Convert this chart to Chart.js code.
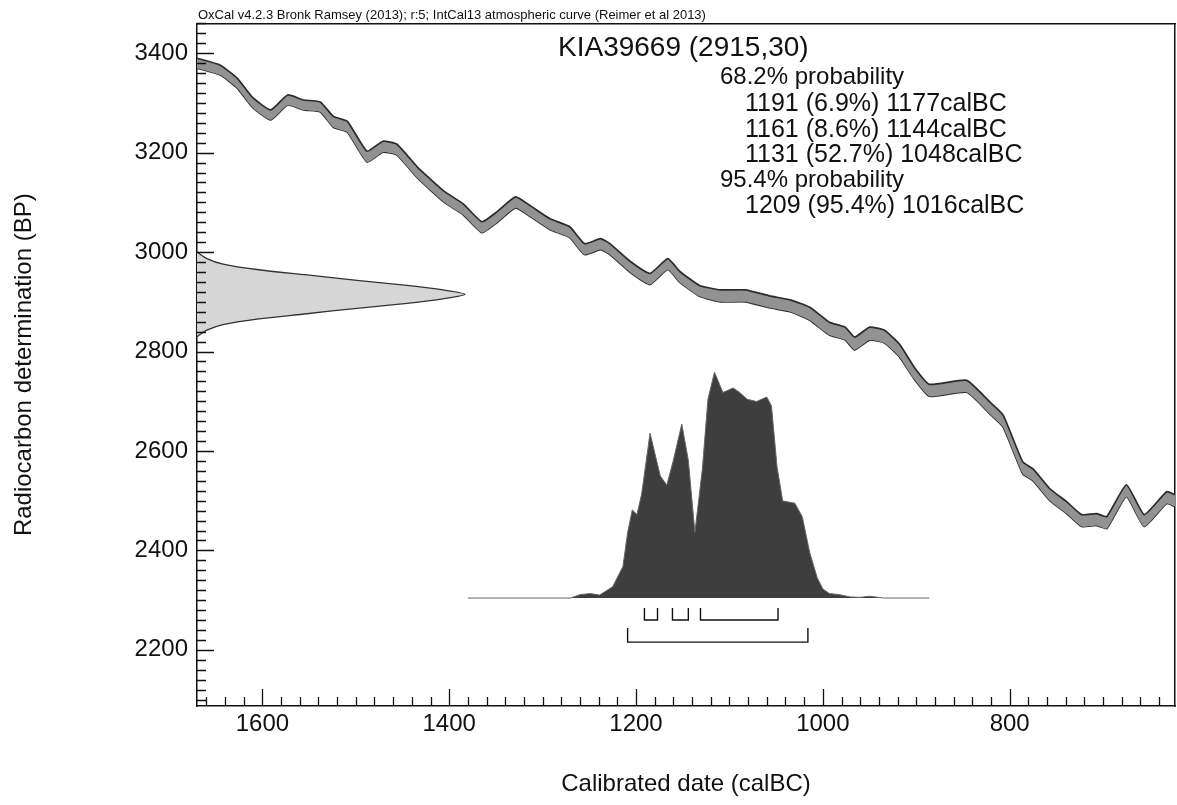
<!DOCTYPE html>
<html>
<head>
<meta charset="utf-8">
<script src="https://cdn.jsdelivr.net/npm/chart.js@4.4.0/dist/chart.umd.min.js"></script>
<style>
  body { margin: 0; background: #fff; }
  #wrap { position: relative; width: 1177px; height: 805px; font-family: "Liberation Sans", Arial, sans-serif; color: #111; }
  #chart { position: absolute; left: 0; top: 0; }
  .txt { position: absolute; white-space: nowrap; font-size: 24px; line-height: 26px; }
  .val { font-size: 25px; }
  #header { position: absolute; left: 198px; top: 7px; font-size: 13px; line-height: 16px; white-space: nowrap; }
</style>
</head>
<body>
<div id="wrap">
  <canvas id="chart" width="1177" height="805"></canvas>
  <div id="header">OxCal v4.2.3 Bronk Ramsey (2013); r:5; IntCal13 atmospheric curve (Reimer et al 2013)</div>
  <div class="txt" style="left:558px; top:32px; font-size:28px; line-height:29px;">KIA39669 (2915,30)</div>
  <div class="txt" style="left:720px; top:63px;">68.2% probability</div>
  <div class="txt val" style="left:745px; top:89px;">1191 (6.9%) 1177calBC</div>
  <div class="txt val" style="left:745px; top:115px;">1161 (8.6%) 1144calBC</div>
  <div class="txt val" style="left:745px; top:140px;">1131 (52.7%) 1048calBC</div>
  <div class="txt" style="left:720px; top:166px;">95.4% probability</div>
  <div class="txt val" style="left:745px; top:191px;">1209 (95.4%) 1016calBC</div>
</div>
<script>
// IntCal13 curve (calBC, BP, 1 sigma)
const curveYear = [1670, 1645, 1627, 1610, 1591, 1573, 1556, 1538, 1524, 1509, 1488, 1471, 1456, 1434, 1406,
    1385, 1365, 1349, 1329, 1313, 1292, 1271, 1255, 1238, 1228, 1206, 1185, 1166, 1153, 1132,
    1110, 1083, 1057, 1035, 1014, 993, 976, 966, 950, 934, 918, 902, 886, 846, 821,
    807, 786, 775, 757, 739, 723, 707, 696, 675, 656, 632, 623];
const curveBP = [3380, 3366, 3340, 3300, 3276, 3306, 3296, 3292, 3262, 3252, 3192, 3212, 3206, 3160, 3112,
    3086, 3050, 3070, 3100, 3082, 3056, 3040, 3006, 3016, 3006, 2970, 2946, 2976, 2950, 2922,
    2912, 2912, 2900, 2892, 2876, 2846, 2836, 2816, 2836, 2830, 2802, 2756, 2722, 2730, 2686,
    2660, 2566, 2552, 2512, 2486, 2460, 2462, 2456, 2520, 2460, 2506, 2500];
const curveSigma = [10, 10, 10, 10, 10, 10, 10, 10, 11, 11, 11, 11, 11, 11, 11,
    11, 11, 11, 11, 11, 11, 11, 11, 11, 11, 11, 11, 11, 11, 11,
    12, 12, 12, 12, 13, 13, 13, 13, 13, 13, 13, 12, 12, 12, 12,
    12, 12, 12, 12, 12, 12, 12, 12, 12, 12, 12, 12];

// radiocarbon date 2915 +/- 30 BP (relative density)
const dateBP = [3000, 2987, 2976, 2965, 2954, 2943, 2933, 2924, 2915, 2906, 2897, 2887, 2876, 2865, 2854, 2843, 2830];
const dateDensity = [0, 0.037, 0.097, 0.224, 0.41, 0.597, 0.784, 0.918, 1, 0.918, 0.784, 0.597, 0.41, 0.224, 0.097, 0.037, 0];

// calibrated distribution (relative probability)
const distYear = [1380, 1270, 1260, 1249, 1239, 1225, 1214, 1209, 1204, 1199, 1194, 1185, 1174, 1167, 1160,
    1151, 1144, 1137, 1129, 1123, 1116, 1107, 1096, 1089, 1081, 1071, 1060, 1055, 1049, 1043,
    1030, 1022, 1014, 1006, 1000, 993, 982, 971, 960, 950, 935, 886];
const distProb = [0, 0, 0.015, 0.02, 0.013, 0.05, 0.14, 0.29, 0.39, 0.37, 0.46, 0.73, 0.54, 0.50, 0.61,
    0.77, 0.61, 0.29, 0.57, 0.88, 1.0, 0.91, 0.93, 0.91, 0.88, 0.87, 0.89, 0.85, 0.58, 0.43,
    0.42, 0.36, 0.20, 0.09, 0.04, 0.02, 0.015, 0.005, 0.003, 0.008, 0, 0];

// ranges
const range68From = [1191, 1161, 1131];
const range68To = [1177, 1144, 1048];
const range95From = [1209];
const range95To = [1016];

const xLabels = [1600, 1400, 1200, 1000, 800];
const yLabels = [3400, 3200, 3000, 2800, 2600, 2400, 2200];

const FONT = '"Liberation Sans", Arial, sans-serif';

function bracketPoints(from, to, top, bottom) {
    const pts = [];
    from.forEach((f, i) => {
        pts.push({ x: f, y: top }, { x: f, y: bottom }, { x: to[i], y: bottom }, { x: to[i], y: top }, { x: to[i], y: null });
    });
    return pts;
}

// ticks pointing into the plot, long ones at the labelled values
const insideTicks = {
    id: 'insideTicks',
    afterDraw(chart) {
        const { ctx, chartArea } = chart;
        const xs = chart.scales.x;
        const ys = chart.scales.y;
        ctx.save();
        ctx.strokeStyle = '#111';
        ctx.lineWidth = 1.3;
        ctx.beginPath();
        xs.ticks.forEach(t => {
            const px = Math.round(xs.getPixelForValue(t.value)) + 0.5;
            const len = xLabels.includes(t.value) ? 17 : 9;
            ctx.moveTo(px, chartArea.bottom);
            ctx.lineTo(px, chartArea.bottom - len);
        });
        ys.ticks.forEach(t => {
            const py = Math.round(ys.getPixelForValue(t.value)) + 0.5;
            const len = yLabels.includes(t.value) ? 17 : 9;
            ctx.moveTo(chartArea.left, py);
            ctx.lineTo(chartArea.left + len, py);
        });
        ctx.stroke();
        ctx.restore();
    }
};

const datasets = [
    {
        // upper edge of curve band
        data: curveYear.map((yr, i) => ({ x: yr, y: curveBP[i] + curveSigma[i] })),
        borderColor: '#2b2b2b', borderWidth: 1.7, backgroundColor: '#929292',
        fill: '+1', pointRadius: 0, tension: 0.15
    },
    {
        // lower edge
        data: curveYear.map((yr, i) => ({ x: yr, y: curveBP[i] - curveSigma[i] })),
        borderColor: '#2b2b2b', borderWidth: 1.7, fill: false, pointRadius: 0, tension: 0.15
    },
    {
        data: dateBP.map((bp, i) => ({ x: dateDensity[i], y: bp })),
        xAxisID: 'x2', yAxisID: 'y',
        borderColor: '#333', borderWidth: 1.3, backgroundColor: '#d6d6d6',
        fill: 'shape', pointRadius: 0, tension: 0.3
    },
    {
        data: distYear.map((yr, i) => ({ x: yr, y: distProb[i] })),
        xAxisID: 'x', yAxisID: 'y2',
        borderColor: '#666', borderWidth: 1, backgroundColor: '#3e3e3e',
        fill: 'origin', pointRadius: 0, tension: 0
    },
    {
        data: bracketPoints(range68From, range68To, -0.044, -0.097),
        xAxisID: 'x', yAxisID: 'y2',
        borderColor: '#111', borderWidth: 1.4, fill: false, pointRadius: 0, spanGaps: false
    },
    {
        data: bracketPoints(range95From, range95To, -0.133, -0.195),
        xAxisID: 'x', yAxisID: 'y2',
        borderColor: '#111', borderWidth: 1.4, fill: false, pointRadius: 0, spanGaps: false
    }
];

new Chart(document.getElementById('chart'), {
    type: 'line',
    data: { datasets },
    options: {
        responsive: false,
        animation: false,
        devicePixelRatio: 1,
        layout: { padding: 0 },
        plugins: { legend: { display: false }, tooltip: { enabled: false }, title: { display: false } },
        events: [],
        scales: {
            x: {
                type: 'linear', position: 'bottom', reverse: true, min: 623, max: 1670,
                ticks: {
                    stepSize: 20, includeBounds: false, autoSkip: false, maxRotation: 0, padding: 4,
                    color: '#111', font: { family: FONT, size: 24 },
                    callback: v => xLabels.includes(v) ? String(v) : ''
                },
                grid: { display: false, drawTicks: false },
                border: { display: true, color: '#111', width: 1.5 },
                title: { display: true, text: 'Calibrated date (calBC)', color: '#111', font: { family: FONT, size: 24 }, padding: { top: 0, bottom: 6 } },
                afterFit: s => { s.height = 99; }
            },
            y: {
                type: 'linear', position: 'left', min: 2087, max: 3460,
                ticks: {
                    stepSize: 20, includeBounds: false, autoSkip: false, padding: 9,
                    color: '#111', font: { family: FONT, size: 24 },
                    callback: v => yLabels.includes(v) ? String(v) : ''
                },
                grid: { display: false, drawTicks: false },
                border: { display: true, color: '#111', width: 1.5 },
                title: { display: true, text: 'Radiocarbon determination (BP)', color: '#111', font: { family: FONT, size: 24 }, padding: { top: 10, bottom: 0 } },
                afterFit: s => { s.width = 197; }
            },
            x2: {
                type: 'linear', position: 'top', min: 0, max: 3.649,
                ticks: { display: false },
                grid: { display: false, drawTicks: false },
                border: { display: true, color: '#111', width: 1.5 },
                afterFit: s => { s.height = 23; }
            },
            y2: {
                type: 'linear', position: 'right', min: -0.478, max: 2.544,
                ticks: { display: false },
                grid: { display: false, drawTicks: false },
                border: { display: true, color: '#111', width: 1.5 },
                afterFit: s => { s.width = 2; }
            }
        }
    },
    plugins: [insideTicks]
});
</script>
</body>
</html>
